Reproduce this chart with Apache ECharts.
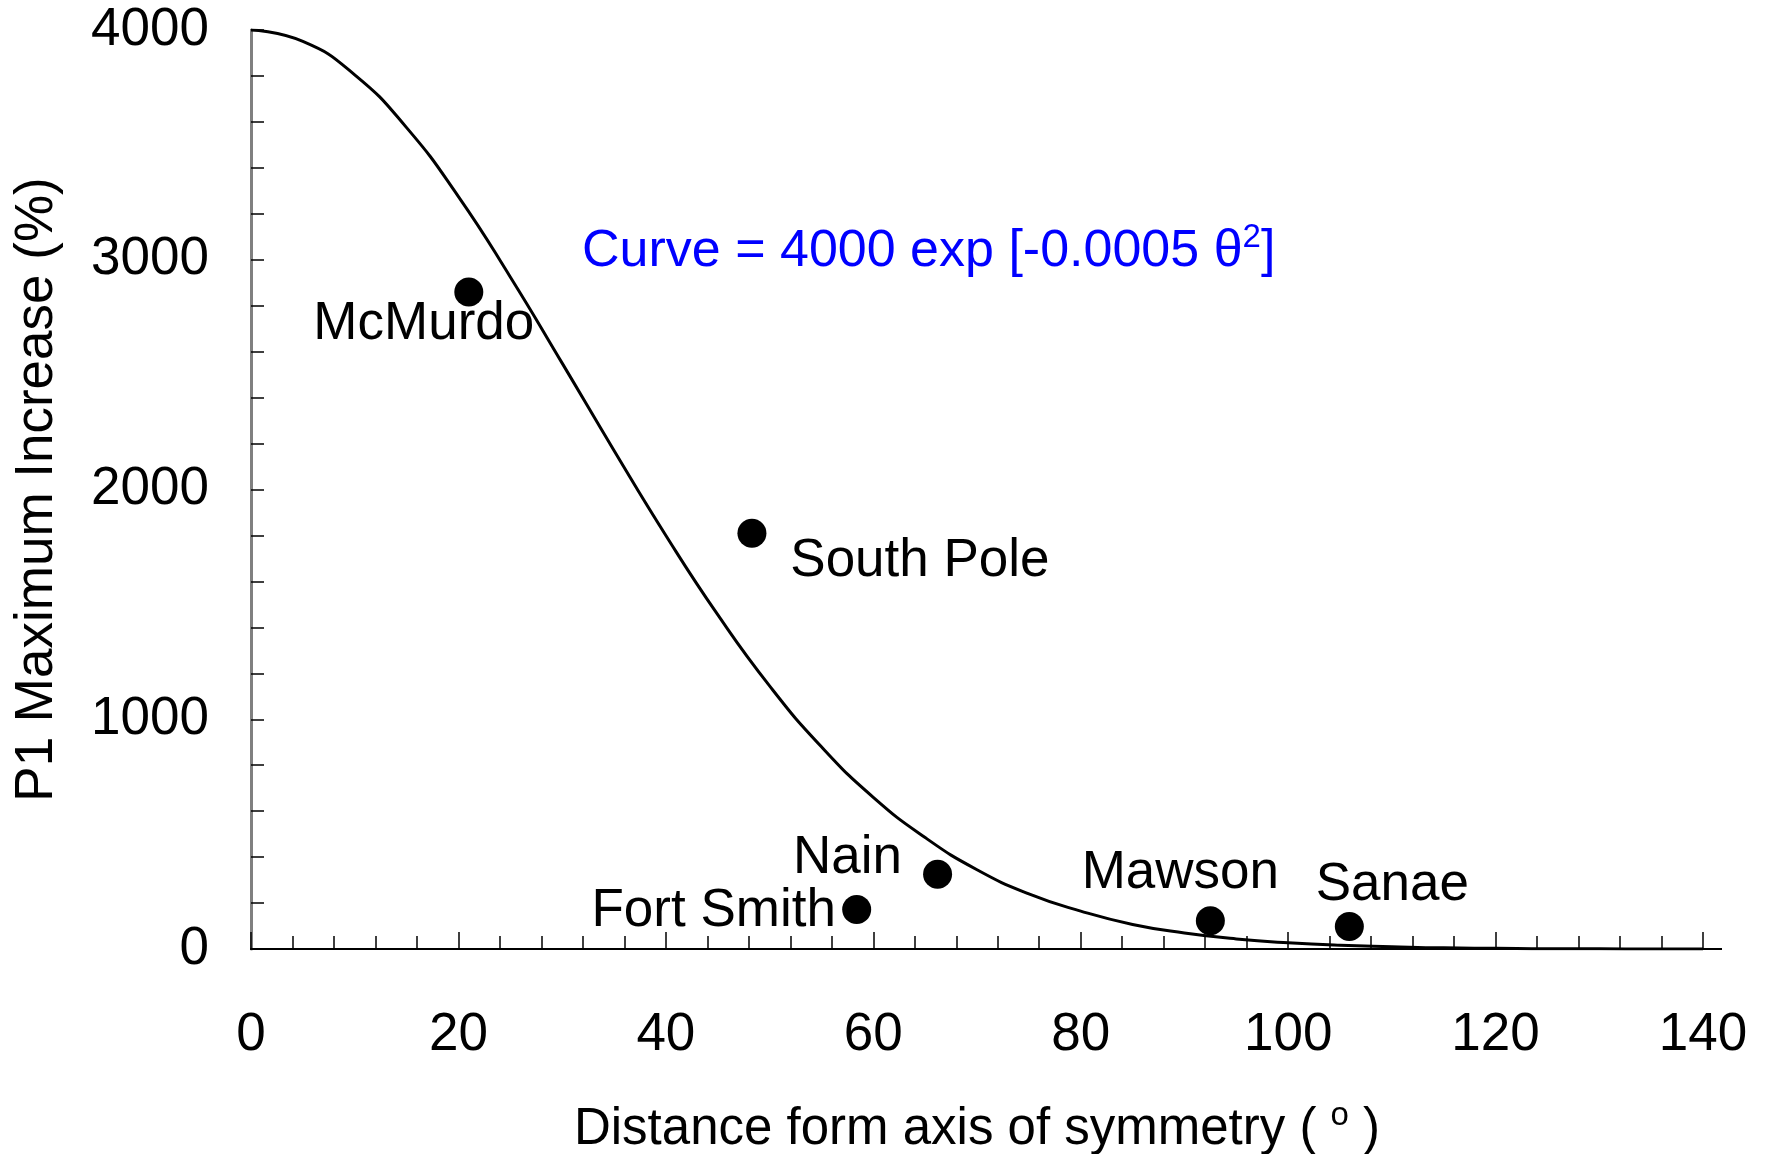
<!DOCTYPE html>
<html>
<head>
<meta charset="utf-8">
<script src="https://cdn.jsdelivr.net/npm/echarts@6/dist/echarts.min.js"></script>
<style>html,body{margin:0;padding:0;background:#fff}#c{width:1771px;height:1154px}</style>
</head>
<body>
<div id="c"></div>
<script>
// Curve (theta in degrees, increase in %)
const curveTheta = [0,5,10,15,20,25,30,35,40,45,50,55,60,65,70,75,80,85,90,95,100,105,110,115,120,125,130,135,140];
const curveValue = [4000,3950,3805,3575,3275,2925,2550,2170,1800,1455,1145,880,660,485,345,240,165,107,70,44,27,16,10,5,3,1,1,0,0];

// Stations
const stationNames = ['McMurdo','South Pole','Fort Smith','Nain','Mawson','Sanae'];
const stationTheta = [21.0, 48.3, 58.4, 66.2, 92.5, 105.9];
const stationIncrease = [2860, 1810, 172, 325, 123, 98];

const xTicks = [0,20,40,60,80,100,120,140];
const yTicks = [0,1000,2000,3000,4000];

const FONT = 'Liberation Sans, Arial, sans-serif';
const FS = 53;
const labelOffsets = {
  'McMurdo': [-45, 32],
  'South Pole': [168, 28],
  'Fort Smith': [-143, 2],
  'Nain': [-90, -16],
  'Mawson': [-30, -47],
  'Sanae': [43, -41]
};

const chart = echarts.init(document.getElementById('c'));
const option = {
  backgroundColor: '#fff',
  animation: false,
  grid: { left: 251, right: 68, top: 30, bottom: 205, outerBoundsMode: 'none', containLabel: false },
  xAxis: [{
    type: 'value', min: xTicks[0], max: xTicks[xTicks.length-1], interval: 20,
    name: '{a|Distance form axis of symmetry ( }{s|o}{a| )}',
    nameLocation: 'middle', nameGap: 150,
    nameTextStyle: {
      rich: {
        a: { fontSize: 51, fontFamily: FONT, color: '#000', lineHeight: 62 },
        s: { fontSize: 33, fontFamily: FONT, color: '#000', lineHeight: 62, verticalAlign: 'top' }
      }
    },
    axisLine: { lineStyle: { color: '#000', width: 2 } },
    axisTick: { inside: true, length: 17, lineStyle: { color: '#000', width: 1.5 } },
    minorTick: { show: true, splitNumber: 5, length: 13, lineStyle: { color: '#000', width: 1.5 } },
    splitLine: { show: false },
    axisLabel: { fontSize: FS, fontFamily: FONT, color: '#000', margin: 60 }
  }, {
    type: 'value', position: 'top', min: 0, max: 140,
    axisLine: { show: true, lineStyle: { color: '#000', width: 2 } },
    axisTick: { show: false }, axisLabel: { show: false }, splitLine: { show: false }
  }],
  yAxis: [{
    type: 'value', min: yTicks[0], max: yTicks[yTicks.length-1], interval: 1000,
    name: 'P1 Maximum Increase (%)',
    nameLocation: 'middle', nameGap: 187,
    nameTextStyle: { fontSize: FS, fontFamily: FONT, color: '#000' },
    axisLine: { show: true, lineStyle: { color: '#000', width: 2 } },
    axisTick: { inside: true, length: 13, lineStyle: { color: '#000', width: 1.5 } },
    minorTick: { show: true, splitNumber: 5, length: 13, lineStyle: { color: '#000', width: 1.5 } },
    splitLine: { show: false },
    axisLabel: { fontSize: FS, fontFamily: FONT, color: '#000', margin: 42, formatter: v => String(v) }
  }, {
    type: 'value', position: 'right', min: 0, max: 4000,
    axisLine: { show: true, lineStyle: { color: '#808080', width: 3 } },
    axisTick: { show: false }, axisLabel: { show: false }, splitLine: { show: false }
  }],
  series: [{
    type: 'line',
    data: curveTheta.map((t, i) => [t, curveValue[i]]),
    smooth: true, showSymbol: false,
    lineStyle: { color: '#000', width: 3 },
    z: 2
  }, {
    type: 'scatter',
    symbol: 'circle', symbolSize: 29,
    itemStyle: { color: '#000', opacity: 1 },
    data: stationNames.map((n, i) => ({
      name: n, value: [stationTheta[i], stationIncrease[i]],
      label: { show: true, position: 'inside', offset: labelOffsets[n], formatter: n,
               fontSize: FS, fontFamily: FONT, color: '#000' }
    })),
    z: 3
  }],
  graphic: [{
    type: 'text', left: 582, top: 221,
    style: {
      text: '{a|Curve = 4000 exp [-0.0005 θ}{s|2}{a|]}',
      rich: {
        a: { fontSize: 52, fontFamily: FONT, fill: '#0000FF', lineHeight: 62 },
        s: { fontSize: 33, fontFamily: FONT, fill: '#0000FF', lineHeight: 62, verticalAlign: 'top' }
      }
    }
  }]
};
chart.setOption(option);
// x-axis line runs a little past the right frame in the reference
const p = chart.convertToPixel({ xAxisIndex: 0, yAxisIndex: 0 }, [xTicks[xTicks.length-1], 0]);
chart.setOption({ graphic: [option.graphic[0], {
  type: 'line', shape: { x1: p[0], y1: p[1], x2: p[0] + 19, y2: p[1] },
  style: { stroke: '#000', lineWidth: 2 }
}] });
</script>
</body>
</html>
